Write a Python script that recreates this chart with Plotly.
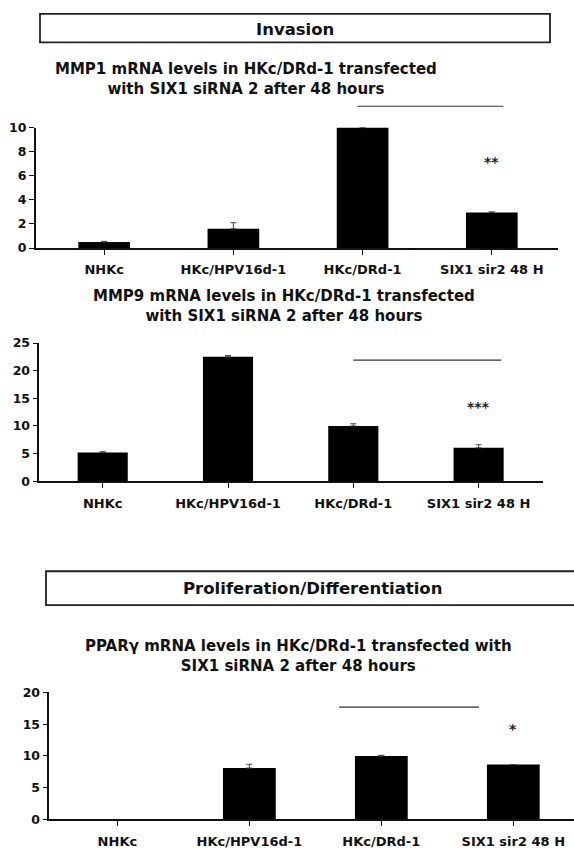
import plotly.graph_objects as go

W, H = 574, 854

categories = ["NHKc", "HKc/HPV16d-1", "HKc/DRd-1", "SIX1 sir2 48 H"]

mmp1_values = [0.5, 1.6, 10.0, 2.95]
mmp1_errors = [0.05, 0.5, 0.0, 0.05]
mmp9_values = [5.2, 22.5, 10.0, 6.05]
mmp9_errors = [0.15, 0.25, 0.4, 0.55]
pparg_values = [0.0, 8.1, 10.0, 8.65]
pparg_errors = [0.0, 0.6, 0.1, 0.0]
no_minus = [0.0, 0.0, 0.0, 0.0]

mmp1_ticks = [0, 2, 4, 6, 8, 10]
mmp9_ticks = [0, 5, 10, 15, 20, 25]
pparg_ticks = [0, 5, 10, 15, 20]

titles = [
    "MMP1 mRNA levels in HKc/DRd-1 transfected<br>with SIX1 siRNA 2 after 48 hours",
    "MMP9 mRNA levels in HKc/DRd-1 transfected<br>with SIX1 siRNA 2 after 48 hours",
    "PPARγ mRNA levels in HKc/DRd-1 transfected with<br>SIX1 siRNA 2 after 48 hours",
]
section_labels = ["Invasion", "Proliferation/Differentiation"]
stars = ["**", "***", "*"]
star_y = [7.15, 13.45, 14.3]
sig_x0 = [1.96, 2.0, 1.68]
sig_x1 = [3.09, 3.18, 2.74]
sig_y = [11.77, 21.9, 17.7]

FONT = "DejaVu Sans"
INK = "#111111"

def px(x):
    return x / W

def py(y):
    return 1 - y / H

# panel geometry in pixels: left, right, top, bottom, x-range, y-max
panels = [
    dict(l=35.7, r=557.7, t=121.7, b=244.3, xr=[-0.53, 3.51], ymax=10, vals=mmp1_values, errs=mmp1_errors, ticks=mmp1_ticks),
    dict(l=39.3, r=543.0, t=341.0, b=481.7, xr=[-0.506, 3.514], ymax=25, vals=mmp9_values, errs=mmp9_errors, ticks=mmp9_ticks),
    dict(l=49.3, r=574.0, t=696.7, b=826.0, xr=[-0.516, 3.46], ymax=20, vals=pparg_values, errs=pparg_errors, ticks=pparg_ticks),
]

fig = go.Figure()
layout_axes = {}
shapes = []
annotations = []

for i, p in enumerate(panels):
    n = "" if i == 0 else str(i + 1)
    xa, ya = "x" + n, "y" + n
    fig.add_trace(go.Bar(
        x=categories, y=p["vals"], xaxis=xa, yaxis=ya,
        marker=dict(color="black", line=dict(width=0)),
        width=0.4,
        error_y=dict(type="data", array=p["errs"], arrayminus=no_minus, symmetric=False,
                     color="#444444", thickness=1, width=3),
        showlegend=False,
    ))
    layout_axes["xaxis" + n] = dict(
        domain=[px(p["l"]), min(1.0, px(p["r"]))], anchor=ya, type="category",
        range=p["xr"], showline=True, linecolor=INK, linewidth=1.5,
        ticks="outside", ticklen=5, tickcolor=INK, tickwidth=1.2,
        showgrid=False, zeroline=False, ticklabelstandoff=4,
        tickfont=dict(family=FONT, size=13, color=INK, weight="bold"),
    )
    layout_axes["yaxis" + n] = dict(
        domain=[py(p["b"]), py(p["t"])], anchor=xa, range=[0, p["ymax"]],
        tickvals=p["ticks"], showline=True, linecolor=INK, linewidth=1.5,
        ticks="outside", ticklen=5, tickcolor=INK, tickwidth=1.2,
        showgrid=False, zeroline=False,
        tickfont=dict(family=FONT, size=12.5, color=INK, weight="bold"),
    )
    # significance bar
    shapes.append(dict(type="line", xref=xa, yref=ya + " domain",
                       x0=sig_x0[i], x1=sig_x1[i],
                       y0=sig_y[i] / p["ymax"], y1=sig_y[i] / p["ymax"],
                       line=dict(color="#333333", width=1.2)))
    annotations.append(dict(xref=xa, yref=ya, x=3, y=star_y[i], text=stars[i],
                            showarrow=False, yanchor="middle",
                            font=dict(family=FONT, size=14, color="#222222", weight="bold")))

# chart titles
title_pos = [(246, 72.5), (283.5, 303.0), (298, 659.5)]
for t, (cx, cy) in zip(titles, title_pos):
    annotations.append(dict(xref="paper", yref="paper", x=px(cx), y=py(cy), text=t,
                            showarrow=False, xanchor="center", yanchor="middle", align="center",
                            font=dict(family=FONT, size=15, color=INK, weight="bold")))

# section header boxes
boxes = [(40, 550, 6, 35, 295, 21.5), (46, 590, 573.3, 607.7, 312, 591)]
for lbl, (x0, x1, y0, y1, tx, ty) in zip(section_labels, boxes):
    shapes.append(dict(type="rect", xref="paper", yref="paper",
                       x0=px(x0), x1=px(x1), y0=py(y1), y1=py(y0),
                       line=dict(color="#222222", width=1.8), fillcolor="rgba(0,0,0,0)"))
    annotations.append(dict(xref="paper", yref="paper", x=px(tx), y=py(ty), text=lbl,
                            showarrow=False, xanchor="center", yanchor="middle",
                            font=dict(family=FONT, size=16.5, color=INK, weight="bold")))

fig.update_layout(
    width=W, height=H, autosize=False,
    margin=dict(l=0, r=0, t=0, b=0),
    paper_bgcolor="white", plot_bgcolor="white",
    showlegend=False, bargap=0.6,
    shapes=shapes, annotations=annotations,
    **layout_axes,
)

fig.write_html("out.html")
